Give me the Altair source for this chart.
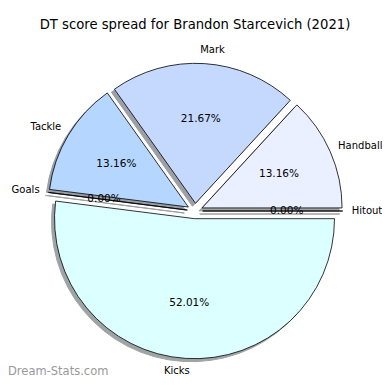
import math
import altair as alt
import pandas as pd

# ---- data (matplotlib pie order, counter-clockwise from 3 o'clock) ----
labels = ["Hitout", "Handball", "Mark", "Tackle", "Goals", "Kicks"]
values = [0.00, 13.16, 21.67, 13.16, 0.00, 52.01]
colors = ["#dbe8ff", "#eaf0ff", "#c5d9ff", "#b4d6ff", "#b4d6ff", "#dcffff"]
title_text = "DT score spread for Brandon Starcevich (2021)"
watermark = "Dream-Stats.com"

EXPLODE = 0.055
R_PX = 140
W, H = 374, 370
CX, CY = 187, 203  # pie centre inside the chart (pixels)

rows = []
total = sum(values)
start = 0.0
for lab, v, col in zip(labels, values, colors):
    a1 = start
    a2 = start + 360.0 * v / total
    start = a2
    mid = math.radians((a1 + a2) / 2)
    t1 = math.radians(90 - a2)
    t2 = math.radians(90 - a1)
    if t1 < 0:
        t1 += 2 * math.pi
        t2 += 2 * math.pi
    ex, ey = EXPLODE * math.cos(mid), EXPLODE * math.sin(mid)
    r, g, b = (int(col[i:i + 2], 16) for i in (1, 3, 5))
    shadow = "#%02x%02x%02x" % (int(r * 0.3), int(g * 0.3), int(b * 0.3))
    rows.append(dict(
        label=lab, value=v, color=col, shadow=shadow,
        t1=t1, t2=t2, cx=ex, cy=ey,
        lx=ex + 1.1 * math.cos(mid), ly=ey + 1.1 * math.sin(mid),
        px=ex + 0.6 * math.cos(mid), py=ey + 0.6 * math.sin(mid),
        side="left" if math.cos(mid) > 0 else "right",
        pct=f"{v:.2f}%",
    ))
df = pd.DataFrame(rows)

xscale = alt.Scale(domain=[(0 - CX) / R_PX, (W - CX) / R_PX], nice=False, zero=False)
yscale = alt.Scale(domain=[(CY - H) / R_PX, CY / R_PX], nice=False, zero=False)
noaxis = None

base = alt.Chart(df)

shadow = base.mark_arc(xOffset=-3, yOffset=3, opacity=0.5, strokeWidth=1).encode(
    x=alt.X("cx:Q", scale=xscale, axis=noaxis),
    y=alt.Y("cy:Q", scale=yscale, axis=noaxis),
    theta=alt.Theta("t1:Q", scale=None, stack=None),
    theta2="t2:Q",
    radius=alt.value(R_PX),
    fill=alt.Color("shadow:N", scale=None),
    stroke=alt.Stroke("shadow:N", scale=None),
)

wedges = base.mark_arc(stroke="black", strokeWidth=0.8).encode(
    x=alt.X("cx:Q", scale=xscale, axis=noaxis),
    y=alt.Y("cy:Q", scale=yscale, axis=noaxis),
    theta=alt.Theta("t1:Q", scale=None, stack=None),
    theta2="t2:Q",
    radius=alt.value(R_PX),
    fill=alt.Color("color:N", scale=None),
)

font = "DejaVu Sans"
FS = 10
lab_left = base.transform_filter(alt.datum.side == "left").mark_text(
    align="left", baseline="middle", font=font, fontSize=FS, color="black", xOffset=-5
).encode(x=alt.X("lx:Q", scale=xscale, axis=noaxis),
         y=alt.Y("ly:Q", scale=yscale, axis=noaxis), text="label:N")
lab_right = base.transform_filter(alt.datum.side == "right").mark_text(
    align="right", baseline="middle", font=font, fontSize=FS, color="black", xOffset=5, yOffset=-1
).encode(x=alt.X("lx:Q", scale=xscale, axis=noaxis),
         y=alt.Y("ly:Q", scale=yscale, axis=noaxis), text="label:N")
pcts = base.mark_text(
    align="center", baseline="middle", font=font, fontSize=10.5, color="black"
).encode(x=alt.X("px:Q", scale=xscale, axis=noaxis),
         y=alt.Y("py:Q", scale=yscale, axis=noaxis), text="pct:N")

title = alt.Chart(pd.DataFrame({"t": [title_text]})).mark_text(
    align="center", baseline="middle", font=font, fontSize=13.2, color="black"
).encode(x=alt.value(CX), y=alt.value(17), text="t:N")

wm = alt.Chart(pd.DataFrame({"t": [watermark]})).mark_text(
    align="left", baseline="bottom", font=font, fontSize=11.5, color="#999999"
).encode(x=alt.value(0), y=alt.value(H - 1), text="t:N")

chart = alt.layer(shadow, wedges, lab_left, lab_right, pcts, title, wm).properties(
    width=W, height=H, padding=0, autosize="none", background="white"
).configure_view(strokeWidth=0, strokeOpacity=0, stroke="transparent")

chart.save("out.html", embed_options={"renderer": "svg", "actions": False})
